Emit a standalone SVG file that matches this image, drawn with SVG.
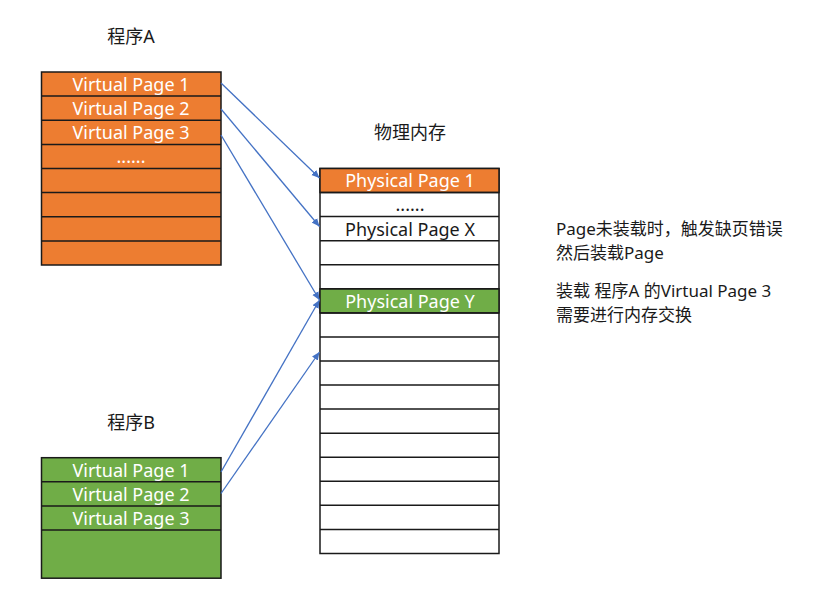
<svg xmlns="http://www.w3.org/2000/svg" width="821" height="596" viewBox="0 0 821 596">
  <style>
    .t { font-family: "Noto Sans", "Noto Sans CJK SC", sans-serif; font-size: 18px; }
    .c { text-anchor: middle; }
    .w { fill: #ffffff; }
    .k { fill: #1a1a1a; }
    .note { font-family: "Noto Sans", "Noto Sans CJK SC", sans-serif; font-size: 17px; fill: #1a1a1a; }
    .cell { stroke: #1a1a1a; stroke-width: 1.5; }
    .orange { fill: #ED7D31; }
    .green { fill: #70AD47; }
    .white { fill: #ffffff; }
    .div { stroke: #1a1a1a; stroke-width: 1.5; fill: none; }
    .link { stroke: #4472C4; stroke-width: 1.3; fill: none; marker-end: url(#arrow); }
  </style>
  <defs>
    <marker id="arrow" markerUnits="userSpaceOnUse" markerWidth="9" markerHeight="8" refX="8" refY="4" orient="auto">
      <path d="M0,0.5 L8,4 L0,7.5 Z" fill="#4472C4"/>
    </marker>
  </defs>

  <rect width="821" height="596" fill="#ffffff"/>

  <!-- Program A: eight virtual pages -->
  <g id="programA">
    <text class="t c k" x="131" y="43">程序A</text>
    <rect class="cell orange" x="41.5" y="72" width="179.5" height="193"/>
    <path class="div" d="M41.5,96.1 H221 M41.5,120.25 H221 M41.5,144.4 H221 M41.5,168.5 H221 M41.5,192.6 H221 M41.5,216.75 H221 M41.5,240.9 H221"/>
    <text class="t c w" x="131" y="91">Virtual Page 1</text>
    <text class="t c w" x="131" y="115.1">Virtual Page 2</text>
    <text class="t c w" x="131" y="139.2">Virtual Page 3</text>
    <text class="t c w" x="131" y="163.4">......</text>
  </g>

  <!-- Physical memory: sixteen frames -->
  <g id="physicalMemory">
    <text class="t c k" x="410" y="139">物理内存</text>
    <rect class="cell white" x="320" y="168.5" width="179" height="385"/>
    <rect class="cell orange" x="320" y="168.5" width="179" height="24"/>
    <rect class="cell green" x="320" y="288.8" width="179" height="24.1"/>
    <path class="div" d="M320,192.5 H499 M320,216.6 H499 M320,240.7 H499 M320,264.7 H499 M320,288.8 H499 M320,312.9 H499 M320,336.9 H499 M320,361 H499 M320,385 H499 M320,409.1 H499 M320,433.2 H499 M320,457.2 H499 M320,481.3 H499 M320,505.3 H499 M320,529.4 H499"/>
    <text class="t c w" x="410" y="187.3">Physical Page 1</text>
    <text class="t c k" x="410" y="211">......</text>
    <text class="t c k" x="410" y="235.6">Physical Page X</text>
    <text class="t c w" x="410" y="307.8">Physical Page Y</text>
  </g>

  <!-- Program B: three virtual pages plus unused space -->
  <g id="programB">
    <text class="t c k" x="131" y="429">程序B</text>
    <rect class="cell green" x="41.5" y="457.7" width="179.5" height="120.5"/>
    <path class="div" d="M41.5,481.8 H221 M41.5,505.9 H221 M41.5,530 H221"/>
    <text class="t c w" x="131" y="476.7">Virtual Page 1</text>
    <text class="t c w" x="131" y="500.8">Virtual Page 2</text>
    <text class="t c w" x="131" y="524.9">Virtual Page 3</text>
  </g>

  <!-- Page mappings -->
  <g id="connectors">
    <line class="link" x1="221" y1="83" x2="319.5" y2="178"/>
    <line class="link" x1="221" y1="109" x2="319.5" y2="226.5"/>
    <line class="link" x1="221" y1="135" x2="319.5" y2="300"/>
    <line class="link" x1="221" y1="472" x2="319.5" y2="300"/>
    <line class="link" x1="221" y1="493.5" x2="319.5" y2="352"/>
  </g>

  <!-- Notes -->
  <g id="notes">
    <text class="note" x="556" y="235">Page未装载时，触发缺页错误</text>
    <text class="note" x="556" y="258.5">然后装载Page</text>
    <text class="note" x="556" y="297">装载 程序A 的Virtual Page 3</text>
    <text class="note" x="556" y="320.5">需要进行内存交换</text>
  </g>
</svg>
